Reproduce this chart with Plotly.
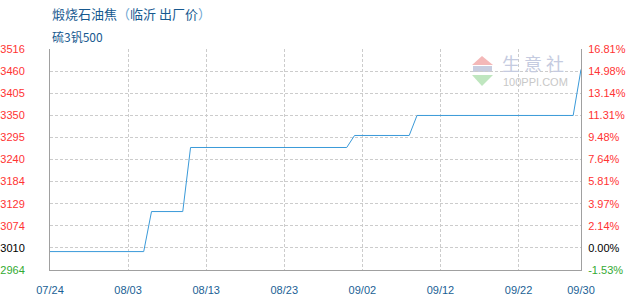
import plotly.graph_objects as go

# Data (change points of the daily price series)
dates = ["2023-07-24", "2023-08-05", "2023-08-06", "2023-08-10", "2023-08-11",
         "2023-08-31", "2023-09-01", "2023-09-08", "2023-09-09", "2023-09-29", "2023-09-30"]
prices = [3010, 3010, 3110, 3110, 3270, 3270, 3300, 3300, 3350, 3350, 3465]

x_tick_dates = ["2023-07-24", "2023-08-03", "2023-08-13", "2023-08-23",
                "2023-09-02", "2023-09-12", "2023-09-22", "2023-09-30"]
x_tick_labels = ["07/24", "08/03", "08/13", "08/23", "09/02", "09/12", "09/22", "09/30"]

y_min, y_max = 2964, 3516
y_tick_vals = [2964, 3019.2, 3074.4, 3129.6, 3184.8, 3240, 3295.2, 3350.4, 3405.6, 3460.8, 3516]
y_left_labels = ["2964", "3010", "3074", "3129", "3184", "3240", "3295", "3350", "3405", "3460", "3516"]
y_right_labels = ["-1.53%", "0.00%", "2.14%", "3.97%", "5.81%", "7.64%", "9.48%",
                  "11.31%", "13.14%", "14.98%", "16.81%"]

RED, BLACK, GREEN = "#ff3333", "#000000", "#33aa33"
def colored(labels):
    out = []
    for i, t in enumerate(labels):
        c = GREEN if i == 0 else (BLACK if i == 1 else RED)
        out.append(f"<span style='color:{c}'>{t}</span>")
    return out

fig = go.Figure()
fig.add_trace(go.Scatter(x=dates, y=prices, mode="lines",
                         line=dict(color="#3a9ad9", width=1), hoverinfo="skip"))
fig.add_trace(go.Scatter(x=[dates[0]], y=[prices[0]], yaxis="y2", mode="markers",
                         marker=dict(opacity=0), hoverinfo="skip"))

GRID = "#cccccc"
AXC = "#a0a0a0"
fig.update_layout(
    width=630, height=300,
    margin=dict(l=50, r=49, t=49, b=30),
    paper_bgcolor="white", plot_bgcolor="white",
    showlegend=False,
    font=dict(family="Liberation Sans, Arial", size=11),
    xaxis=dict(type="date", range=["2023-07-24", "2023-09-30"],
               tickvals=x_tick_dates, ticktext=x_tick_labels,
               tickfont=dict(color="#1a5f95", size=11),
               showgrid=True, gridcolor=GRID, griddash="3px,2px", gridwidth=1,
               showline=True, linecolor=AXC, linewidth=1, automargin=False,
               ticks="", ticklabelstandoff=10, zeroline=False),
    yaxis=dict(range=[y_min, y_max], tickvals=y_tick_vals, ticktext=colored(y_left_labels),
               showgrid=True, gridcolor=GRID, griddash="3px,2px", gridwidth=1,
               showline=True, linecolor=AXC, linewidth=1, automargin=False,
               ticks="", ticklabelstandoff=22, zeroline=False),
    yaxis2=dict(range=[y_min, y_max], tickvals=y_tick_vals, ticktext=colored(y_right_labels),
                overlaying="y", side="right", showgrid=False,
                showline=True, linecolor=AXC, linewidth=1, automargin=False,
                ticks="", ticklabelstandoff=4, zeroline=False),
)

# Title
fig.add_annotation(xref="paper", yref="paper", x=0, y=(270 - 14) / 221, xanchor="left", yanchor="middle",
                   showarrow=False,
                   text="<span style='color:#17598f'>煅烧石油焦</span><span style='color:#6aa3d0'>（</span>"
                        "<span style='color:#17598f'>临沂 出厂价</span><span style='color:#6aa3d0'>）</span>",
                   font=dict(family="Noto Sans CJK SC", size=13))
fig.add_annotation(xref="paper", yref="paper", x=0, y=(270 - 36) / 221, xanchor="left", yanchor="middle",
                   showarrow=False, text="硫3钒500",
                   font=dict(family="Noto Sans CJK SC", size=12, color="#17598f"))

# Watermark
def px(xp):
    return (xp - 50) / 531
def py(yp):
    return (270 - yp) / 221
fig.add_shape(type="path", xref="paper", yref="paper",
              path=f"M {px(482)} {py(56)} L {px(493)} {py(65)} L {px(472)} {py(65)} Z",
              fillcolor="#f4b8b8", line=dict(width=0), layer="below")
fig.add_shape(type="path", xref="paper", yref="paper",
              path=f"M {px(472)} {py(75)} L {px(493)} {py(75)} L {px(482)} {py(86)} Z",
              fillcolor="#bfe6bf", line=dict(width=0), layer="below")
fig.add_shape(type="rect", xref="paper", yref="paper",
              x0=px(473), x1=px(492), y0=py(72), y1=py(66),
              fillcolor="#c8cde0", line=dict(width=0), layer="below")
fig.add_annotation(xref="paper", yref="paper", x=px(501), y=py(63), xanchor="left", yanchor="middle",
                   showarrow=False, text="生 意 社", borderpad=0,
                   font=dict(family="Noto Sans CJK SC", size=18, color="#c5cbe0"))
fig.add_annotation(xref="paper", yref="paper", x=px(502), y=py(82), xanchor="left", yanchor="middle",
                   showarrow=False, text="100PPI.COM", borderpad=0,
                   font=dict(family="Liberation Sans", size=11, color="#c8c8c8"))

fig.write_html("out.html")
